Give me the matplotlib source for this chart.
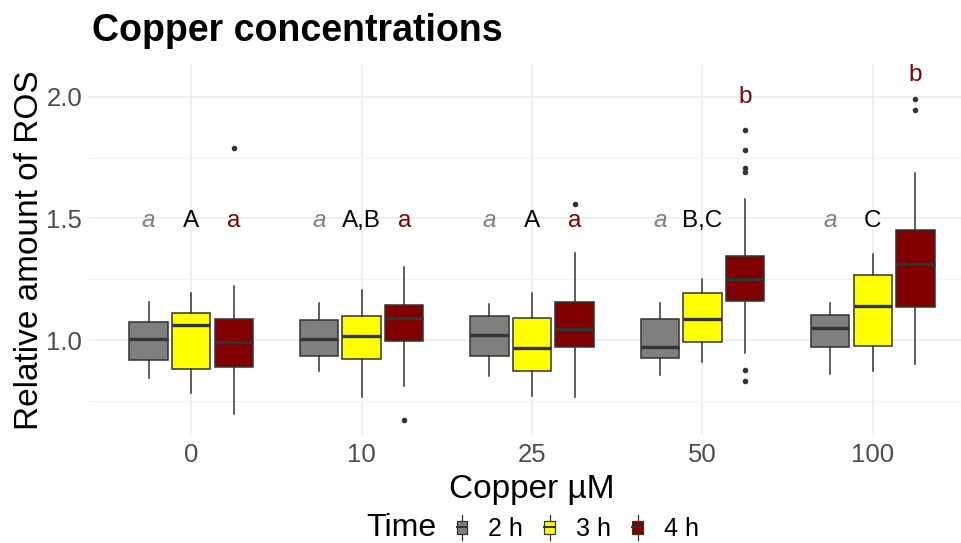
import matplotlib.pyplot as plt
from matplotlib.patches import Rectangle
from matplotlib.lines import Line2D
from matplotlib.legend_handler import HandlerBase

plt.rcParams['font.family'] = ['Liberation Sans', 'DejaVu Sans']

# categories
copper = ['0', '10', '25', '50', '100']
times = ['2 h', '3 h', '4 h']
fills = ['#7f7f7f', '#ffff00', '#800000']

# (whisker low, Q1, median, Q3, whisker high) per copper level
box_2h = [(0.846, 0.916, 1.005, 1.073, 1.155),
          (0.872, 0.936, 1.005, 1.081, 1.154),
          (0.851, 0.933, 1.022, 1.097, 1.148),
          (0.856, 0.925, 0.973, 1.088, 1.152),
          (0.861, 0.971, 1.048, 1.104, 1.152)]
box_3h = [(0.781, 0.883, 1.063, 1.111, 1.192),
          (0.768, 0.923, 1.018, 1.099, 1.204),
          (0.771, 0.872, 0.968, 1.089, 1.193),
          (0.911, 0.990, 1.086, 1.195, 1.251),
          (0.874, 0.974, 1.141, 1.267, 1.354)]
box_4h = [(0.698, 0.888, 0.990, 1.088, 1.222),
          (0.811, 0.997, 1.089, 1.143, 1.302),
          (0.767, 0.970, 1.045, 1.156, 1.357),
          (0.945, 1.159, 1.251, 1.347, 1.579),
          (0.900, 1.137, 1.314, 1.453, 1.686)]

outliers_2h = [[], [], [], [], []]
outliers_3h = [[], [], [], [], []]
outliers_4h = [[1.790], [0.671], [1.560],
               [1.864, 1.781, 1.708, 1.691, 0.875, 0.833],
               [1.992, 1.944]]

# significance letters
letters_2h = ['a', 'a', 'a', 'a', 'a']
letters_3h = ['A', 'A,B', 'A', 'B,C', 'C']
letters_4h = ['a', 'a', 'a', 'b', 'b']
letters_4h_y = [1.49, 1.49, 1.49, 2.0, 2.09]
letters_y = 1.49

boxes = [box_2h, box_3h, box_4h]
outliers = [outliers_2h, outliers_3h, outliers_4h]
offsets = [-0.25, 0.0, 0.25]
edge = '#333333'

fig = plt.figure(figsize=(9.61, 5.43), dpi=100)
ax = fig.add_axes([0.0926, 0.199, 0.922, 0.681])

for k in range(3):
    stats = []
    for i in range(len(copper)):
        lo, q1, med, q3, hi = boxes[k][i]
        stats.append(dict(whislo=lo, q1=q1, med=med, q3=q3, whishi=hi,
                          fliers=outliers[k][i]))
    pos = [i + offsets[k] for i in range(len(copper))]
    ax.bxp(stats, positions=pos, widths=0.225, patch_artist=True,
           showcaps=False, manage_ticks=False,
           boxprops=dict(facecolor=fills[k], edgecolor=edge, linewidth=1.1),
           medianprops=dict(color=edge, linewidth=2.4, solid_capstyle='butt'),
           whiskerprops=dict(color=edge, linewidth=1.1),
           flierprops=dict(marker='o', markersize=3.0, markerfacecolor=edge,
                           markeredgecolor=edge, linestyle='none'),
           zorder=3)

for i in range(len(copper)):
    ax.text(i - 0.25, letters_y, letters_2h[i], color='#808080', style='italic',
            fontsize=17.5, ha='center', va='center', zorder=4)
    ax.text(i, letters_y, letters_3h[i], color='black',
            fontsize=17.5, ha='center', va='center', zorder=4)
    ax.text(i + 0.25, letters_4h_y[i], letters_4h[i], color='#800000',
            fontsize=17.5, ha='center', va='center', zorder=4)

ax.set_xlim(-0.6, 4.6)
ax.set_ylim(0.61, 2.13)
ax.set_xticks(range(len(copper)))
ax.set_xticklabels(copper)
ax.set_yticks([1.0, 1.5, 2.0])
ax.set_yticklabels(['1.0', '1.5', '2.0'])
ax.set_yticks([0.75, 1.25, 1.75], minor=True)
ax.grid(True, which='major', color='#ebebeb', linewidth=1.1, zorder=0)
ax.grid(True, which='minor', axis='y', color='#f2f2f2', linewidth=0.8, zorder=0)
ax.set_axisbelow(True)
for s in ax.spines.values():
    s.set_visible(False)
ax.tick_params(which='both', length=0, labelsize=18.5, labelcolor='#4d4d4d')
ax.tick_params(axis='y', pad=5)
ax.tick_params(axis='x', pad=6)

ax.set_xlabel('Copper µM', fontsize=24, labelpad=5)
ax.set_ylabel('Relative amount of ROS', fontsize=24, labelpad=1)
fig.text(0.096, 0.943, 'Copper concentrations', fontsize=27, fontweight='bold',
         ha='left', va='center')


class BoxKey(HandlerBase):
    # small boxplot glyph as legend key
    def create_artists(self, legend, orig_handle, xdescent, ydescent,
                       width, height, fontsize, trans):
        cx = -xdescent + width / 2
        bw = width * 0.6
        y0 = -ydescent
        h = height
        rect = Rectangle((cx - bw / 2, y0 + h * 0.15), bw, h * 0.7,
                         facecolor=orig_handle.get_facecolor(),
                         edgecolor=edge, linewidth=0.9, transform=trans)
        med = Line2D([cx - bw / 2, cx + bw / 2], [y0 + h * 0.5, y0 + h * 0.5],
                     color=edge, linewidth=1.4, transform=trans)
        wl = Line2D([cx, cx], [y0 - h * 0.15, y0 + h * 0.15], color=edge,
                    linewidth=0.9, transform=trans)
        wh = Line2D([cx, cx], [y0 + h * 0.85, y0 + h * 1.15], color=edge,
                    linewidth=0.9, transform=trans)
        return [wl, wh, rect, med]


handles = [Rectangle((0, 0), 1, 1, facecolor=c) for c in fills]
fig.text(0.381, 0.013, 'Time', fontsize=23, ha='left', va='baseline')
fig.legend(handles, times, handler_map={Rectangle: BoxKey()},
           loc='center left', bbox_to_anchor=(0.4715, 0.026), ncol=3,
           frameon=False, fontsize=18, handlelength=0.7, handleheight=0.8,
           handletextpad=0.7, columnspacing=0.72, borderaxespad=0, borderpad=0)

fig.savefig('out.png', dpi=100)
